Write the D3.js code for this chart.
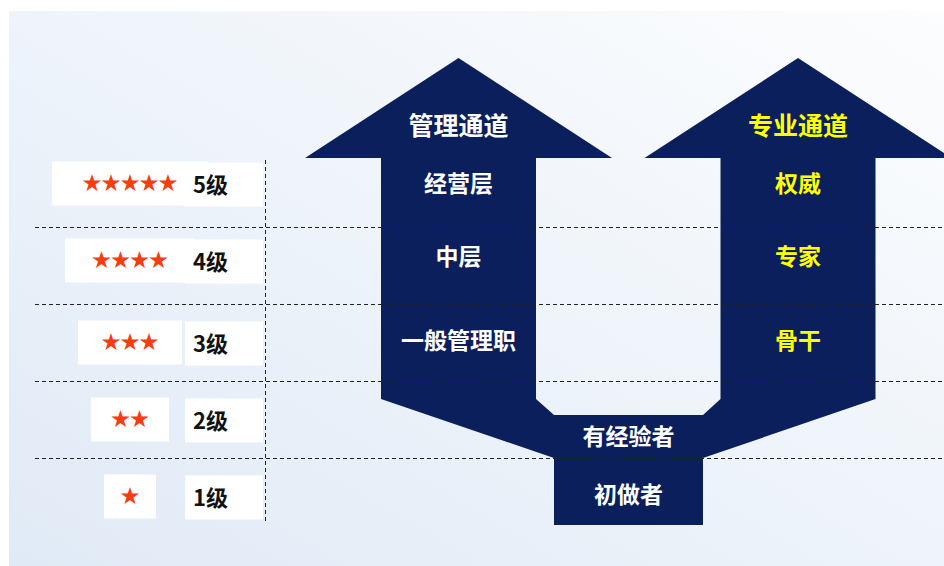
<!DOCTYPE html>
<html>
<head>
<meta charset="utf-8">
<script src="https://cdn.jsdelivr.net/npm/d3@7"></script>
<style>
  html, body { margin: 0; padding: 0; background: #fff; }
  svg { display: block; }
  text { font-family: "Noto Sans CJK SC", "Noto Sans", sans-serif; font-weight: bold; }
</style>
</head>
<body>
<div id="chart"></div>
<script>
// levels, top to bottom
const levels = ['5级', '4级', '3级', '2级', '1级'];
const starCounts = [5, 4, 3, 2, 1];

// the two career tracks and their steps (levels 5..3)
const tracks = ['管理通道', '专业通道'];
const mgmtSteps = ['经营层', '中层', '一般管理职'];
const proSteps = ['权威', '专家', '骨干'];
// shared entry steps (levels 2..1)
const baseSteps = ['有经验者', '初做者'];

const width = 944, height = 566;
const navy = '#0a1f5c';

const svg = d3.select('#chart').append('svg')
    .attr('width', width)
    .attr('height', height);

// background gradient, light blue bottom-left to white top-right
const defs = svg.append('defs');
const grad = defs.append('linearGradient')
    .attr('id', 'bg')
    .attr('x1', 0).attr('y1', 1).attr('x2', 1).attr('y2', 0);
grad.append('stop').attr('offset', '0%').attr('stop-color', '#e0eaf6');
grad.append('stop').attr('offset', '100%').attr('stop-color', '#fcfdfe');

svg.append('rect')
    .attr('x', 9).attr('y', 11)
    .attr('width', width - 9).attr('height', height - 11)
    .attr('fill', 'url(#bg)');

// row scale
const y = d3.scaleBand().domain(levels).range([150, 535]);
const bw = y.bandwidth();
const rowMid = d => y(d) + bw / 2;

// track x centres
const x = d3.scaleOrdinal().domain(tracks).range([458.5, 798]);
const baseX = 628.5;

// arrow shape (one polygon, U-shaped)
const shaftHalf = 77.5, headHalf = 153.5, boxHalf = 74.5;
const headBase = y('5级') + 8, tip = headBase - 100;
const shaftBottom = y('2级') + 18, notch = y('2级') + 34;
const joint = y('1级');               // where outer diagonals meet the box
const boxBottom = y('1级') + bw - 10;
const lx = x('管理通道'), rx = x('专业通道');

const pts = [
    [lx - headHalf, headBase], [lx, tip], [lx + headHalf, headBase],
    [lx + shaftHalf, headBase], [lx + shaftHalf, shaftBottom],
    [baseX - boxHalf, notch], [baseX + boxHalf, notch],
    [rx - shaftHalf, shaftBottom], [rx - shaftHalf, headBase],
    [rx - headHalf, headBase], [rx, tip], [rx + headHalf, headBase],
    [rx + shaftHalf, headBase], [rx + shaftHalf, shaftBottom],
    [baseX + boxHalf, joint], [baseX + boxHalf, boxBottom],
    [baseX - boxHalf, boxBottom], [baseX - boxHalf, joint],
    [lx - shaftHalf, shaftBottom], [lx - shaftHalf, headBase]
];
svg.append('path')
    .attr('d', d3.line()(pts) + 'Z')
    .attr('fill', navy);

// left label boxes
const starBoxes = svg.append('g');
levels.forEach((lv, i) => {
    const n = starCounts[i];
    const cy = rowMid(lv) - (i < 2 ? 5 : 0);
    const w = 26 + 26 * n;
    starBoxes.append('rect')
        .attr('x', 130 - w / 2).attr('y', cy - 22)
        .attr('width', w).attr('height', 44)
        .attr('fill', '#fff');
    starBoxes.append('rect')
        .attr('x', 185).attr('y', cy - 21)
        .attr('width', 78).attr('height', 44)
        .attr('fill', '#fff');
    starBoxes.append('text')
        .attr('x', 130).attr('y', cy - 2)
        .attr('text-anchor', 'middle')
        .attr('dominant-baseline', 'central')
        .attr('fill', '#f53d12')
        .attr('font-size', 19)
        .attr('font-weight', 'normal')
        .text('★'.repeat(n));
    starBoxes.append('text')
        .attr('x', 193).attr('y', cy - 1)
        .attr('dominant-baseline', 'central')
        .attr('fill', '#111')
        .attr('font-size', 22)
        .text(lv);
});

// dashed grid
const grid = svg.append('g')
    .attr('stroke', '#222')
    .attr('stroke-width', 1)
    .attr('stroke-dasharray', '4,3');
levels.slice(1).forEach(lv => {
    grid.append('line')
        .attr('x1', 35).attr('x2', width)
        .attr('y1', Math.round(y(lv)) + 0.5).attr('y2', Math.round(y(lv)) + 0.5);
});
grid.append('line')
    .attr('x1', 265.5).attr('x2', 265.5)
    .attr('y1', 160).attr('y2', 523);

// track titles
const titleFill = { '管理通道': '#fff', '专业通道': '#ffff00' };
tracks.forEach(t => {
    svg.append('text')
        .attr('x', x(t)).attr('y', 124)
        .attr('text-anchor', 'middle')
        .attr('dominant-baseline', 'central')
        .attr('fill', titleFill[t])
        .attr('font-size', 25)
        .text(t);
});

// step labels on each track
const stepOffset = [-7, -11, -4];
const drawSteps = (steps, track) => {
    steps.forEach((s, i) => {
        svg.append('text')
            .attr('x', x(track)).attr('y', rowMid(levels[i]) + stepOffset[i])
            .attr('text-anchor', 'middle')
            .attr('dominant-baseline', 'central')
            .attr('fill', titleFill[track])
            .attr('font-size', 23)
            .text(s);
    });
};
drawSteps(mgmtSteps, '管理通道');
drawSteps(proSteps, '专业通道');

// shared entry steps
const baseY = [(notch + joint) / 2 - 2, rowMid('1级') - 4];
baseSteps.forEach((s, i) => {
    svg.append('text')
        .attr('x', baseX).attr('y', baseY[i])
        .attr('text-anchor', 'middle')
        .attr('dominant-baseline', 'central')
        .attr('fill', '#fff')
        .attr('font-size', 23)
        .text(s);
});
</script>
</body>
</html>
